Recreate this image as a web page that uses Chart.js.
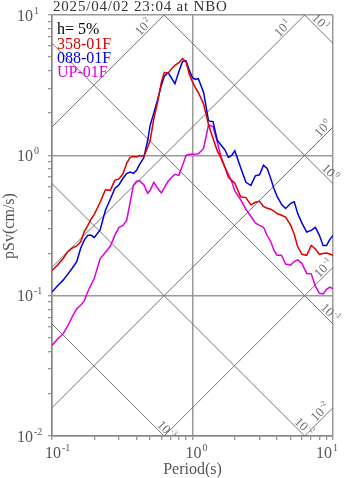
<!DOCTYPE html>
<html>
<head>
<meta charset="utf-8">
<script src="https://cdn.jsdelivr.net/npm/chart.js@4.4.1/dist/chart.umd.min.js"></script>
<style>
  html, body { margin: 0; padding: 0; background: #fff; }
  #wrap { position: relative; width: 347px; height: 478px; }
</style>
</head>
<body>
<div id="wrap"><canvas id="spec"></canvas></div>
<script>
// Pseudo velocity response spectra, h = 5%
const PERIODS = [0.10, 0.11, 0.12, 0.13, 0.14, 0.15, 0.16, 0.17, 0.18, 0.19, 0.20,
  0.22, 0.24, 0.26, 0.28, 0.30, 0.32, 0.34, 0.36, 0.38, 0.40, 0.42,
  0.45, 0.48, 0.50, 0.53, 0.56, 0.60, 0.63, 0.67, 0.70, 0.75, 0.80, 0.85, 0.90, 0.95,
  1.0, 1.05, 1.1, 1.2, 1.3, 1.4, 1.5, 1.6, 1.7, 1.8, 1.9, 2.0,
  2.2, 2.4, 2.6, 2.8, 3.0, 3.2, 3.4, 3.6, 3.8, 4.0,
  4.3, 4.6, 5.0, 5.3, 5.6, 6.0, 6.5, 7.0, 7.5, 8.0, 8.5, 9.0, 9.5, 10];

const SV_358 = [0.151, 0.166, 0.184, 0.207, 0.219, 0.226, 0.242, 0.287, 0.317, 0.352, 0.380,
  0.463, 0.568, 0.563, 0.663, 0.680, 0.738, 0.877, 0.968, 0.980, 0.975, 0.997,
  0.984, 1.14, 1.28, 1.81, 2.31, 3.31, 3.90, 3.84, 4.08, 4.38, 4.57, 4.90, 4.63, 3.76,
  3.34, 3.03, 2.81, 2.31, 1.66, 1.32, 1.08, 0.952, 0.828, 0.697, 0.663, 0.632,
  0.506, 0.500, 0.444, 0.463, 0.470, 0.433, 0.420, 0.413, 0.400, 0.385,
  0.374, 0.363, 0.317, 0.274, 0.224, 0.197, 0.194, 0.228, 0.215, 0.197, 0.200, 0.201, 0.198, 0.194];

const SV_088 = [0.106, 0.118, 0.129, 0.143, 0.158, 0.175, 0.218, 0.250, 0.269, 0.269, 0.260,
  0.294, 0.406, 0.486, 0.580, 0.617, 0.686, 0.741, 0.760, 0.744, 0.782, 0.863,
  0.960, 1.28, 1.64, 2.00, 2.42, 3.15, 3.66, 3.88, 3.63, 3.24, 3.96, 4.67, 4.71, 4.03,
  3.57, 3.48, 3.52, 2.81, 1.76, 1.74, 1.28, 1.18, 1.095, 0.968, 1.00, 1.08,
  0.820, 0.642, 0.611, 0.714, 0.727, 0.849, 0.808, 0.686, 0.577, 0.510,
  0.447, 0.418, 0.455, 0.466, 0.386, 0.330, 0.284, 0.292, 0.307, 0.269, 0.228, 0.228, 0.252, 0.269];

const SV_UP = [0.0442, 0.0493, 0.0535, 0.0614, 0.0713, 0.0808, 0.0853, 0.0926, 0.107, 0.120, 0.133,
  0.183, 0.204, 0.225, 0.269, 0.307, 0.317, 0.344, 0.463, 0.611, 0.653, 0.658,
  0.617, 0.536, 0.563, 0.642, 0.590, 0.540, 0.587, 0.653, 0.686, 0.732, 0.720, 0.849, 1.00, 1.016,
  1.016, 1.02, 1.026, 1.12, 1.65, 1.60, 1.25, 0.968, 0.820, 0.732, 0.653, 0.558,
  0.483, 0.413, 0.368, 0.330, 0.317, 0.307, 0.269, 0.244, 0.210, 0.194,
  0.194, 0.168, 0.165, 0.175, 0.180, 0.170, 0.144, 0.143, 0.117, 0.104, 0.103, 0.111, 0.115, 0.112];

const SERIES_NAMES = ['358-01F', '088-01F', 'UP-01F'];
const SERIES_COLORS = ['#dd0000', '#0000dd', '#dd00dd'];

const X_TICKS = [0.1, 0.2, 0.3, 0.4, 0.5, 0.6, 0.7, 0.8, 0.9,
  1, 2, 3, 4, 5, 6, 7, 8, 9, 10];
const Y_TICKS = [0.01, 0.02, 0.03, 0.04, 0.05, 0.06, 0.07, 0.08, 0.09,
  0.1, 0.2, 0.3, 0.4, 0.5, 0.6, 0.7, 0.8, 0.9,
  1, 2, 3, 4, 5, 6, 7, 8, 9, 10];
const X_LABELS = [0.1, 1, 10];
const Y_LABELS = [10, 1, 0.1, 0.01];

// tripartite guides: displacement (cm) and acceleration (cm/s^2)
const DISP_LINES = [10, 1, 0.1, 0.01, 0.001];
const ACC_LINES = [100, 10, 1, 0.1, 0.01];
// period at which each guide label sits
const DISP_LABEL_T = [7.6, 8.9, 8.9, 5.8, 0.61];
const ACC_LABEL_T = [0.48, 4.7, 9.1, 9.2, 8.7];

const TITLE = '2025/04/02 23:04 at NBO';
const DAMPING = 'h= 5%';

const TWO_PI = 2 * Math.PI;
const SERIF = '"Liberation Serif", "DejaVu Serif", serif';

function isDecade(v) {
  const l = Math.log10(v);
  return Math.abs(l - Math.round(l)) < 1e-6;
}

function guideData(level, kind) {
  return [0.1, 10].map(t => ({
    x: t,
    y: kind === 'disp' ? TWO_PI * level / t : level * t / TWO_PI
  }));
}

// "10" with a raised exponent; returns total width
function powWidth(ctx, exp, size) {
  ctx.font = size + 'px ' + SERIF;
  const wb = ctx.measureText('10').width;
  ctx.font = Math.round(size * 0.65) + 'px ' + SERIF;
  const we = ctx.measureText(String(exp)).width;
  return wb + we + 1;
}
function drawPow(ctx, exp, x, y, size) {
  ctx.font = size + 'px ' + SERIF;
  ctx.fillText('10', x, y);
  const wb = ctx.measureText('10').width;
  ctx.font = Math.round(size * 0.65) + 'px ' + SERIF;
  ctx.fillText(String(exp), x + wb + 1, y - size * 0.42);
}

const spectra = SERIES_NAMES.map((name, i) => ({
  label: name,
  data: PERIODS.map((t, k) => ({ x: t, y: [SV_358, SV_088, SV_UP][i][k] })),
  borderColor: SERIES_COLORS[i],
  borderWidth: 1.5,
  pointRadius: 0,
  tension: 0,
  order: 0
}));

const guides = [];
DISP_LINES.forEach(d => guides.push({
  data: guideData(d, 'disp'), borderColor: '#737373', borderWidth: 1,
  pointRadius: 0, order: 5
}));
ACC_LINES.forEach(a => guides.push({
  data: guideData(a, 'acc'), borderColor: '#737373', borderWidth: 1,
  pointRadius: 0, order: 5
}));

const textPlugin = {
  id: 'textPlugin',
  afterDraw(chart) {
    const { ctx, chartArea: area, scales: { x, y } } = chart;
    ctx.save();
    ctx.textBaseline = 'alphabetic';
    ctx.textAlign = 'left';

    // guide line labels, rotated along their line
    ctx.fillStyle = '#6e6e6e';
    const off = 6.5 / Math.SQRT2;
    const guideLabel = (t, sv, exp, up) => {
      const px = x.getPixelForValue(t), py = y.getPixelForValue(sv);
      ctx.save();
      ctx.translate(px + (up ? -off : off), py - off);
      ctx.rotate(up ? -Math.PI / 4 : Math.PI / 4);
      const w = powWidth(ctx, exp, 13);
      drawPow(ctx, exp, -w / 2, 4.5, 13);
      ctx.restore();
    };
    DISP_LINES.forEach((d, i) => {
      const t = DISP_LABEL_T[i];
      guideLabel(t, TWO_PI * d / t, Math.round(Math.log10(d)), false);
    });
    ACC_LINES.forEach((a, i) => {
      const t = ACC_LABEL_T[i];
      guideLabel(t, a * t / TWO_PI, Math.round(Math.log10(a)), true);
    });

    // axis tick labels
    ctx.fillStyle = '#555';
    Y_LABELS.forEach(v => {
      drawPow(ctx, Math.round(Math.log10(v)), 17, y.getPixelForValue(v) + 5.5, 16);
    });
    X_LABELS.forEach(v => {
      const exp = Math.round(Math.log10(v));
      ctx.font = '16px ' + SERIF;
      const wb = ctx.measureText('10').width;
      let left = x.getPixelForValue(v) + 1 - wb / 2;
      const w = powWidth(ctx, exp, 16);
      if (left + w > 338) left = 338 - w;
      drawPow(ctx, exp, left, 458, 16);
    });

    // axis titles
    ctx.font = '16px ' + SERIF;
    ctx.textAlign = 'center';
    ctx.fillText('Period(s)', (area.left + area.right) / 2, 474);
    ctx.save();
    ctx.translate(14, 226);
    ctx.rotate(-Math.PI / 2);
    ctx.fillText('pSv(cm/s)', 0, 0);
    ctx.restore();

    // heading
    ctx.textAlign = 'left';
    ctx.fillStyle = '#333';
    ctx.font = '15px ' + SERIF;
    ctx.letterSpacing = '0.8px';
    ctx.fillText(TITLE, area.left + 1, 11);
    ctx.letterSpacing = '0px';

    // text legend
    ctx.font = '16px ' + SERIF;
    ctx.fillStyle = '#000';
    ctx.fillText(DAMPING, area.left + 5, 34);
    SERIES_NAMES.forEach((name, i) => {
      ctx.fillStyle = SERIES_COLORS[i];
      ctx.fillText(name, area.left + 5, 48.5 + i * 14.3);
    });
    ctx.restore();
  }
};

const gridColor = c => (c.tick && isDecade(c.tick.value)) ? '#999' : 'rgba(0,0,0,0)';

new Chart(document.getElementById('spec'), {
  type: 'line',
  data: { datasets: spectra.concat(guides) },
  options: {
    responsive: true,
    maintainAspectRatio: false,
    animation: false,
    events: [],
    layout: { padding: { top: 15, right: 14, bottom: 0, left: 0 } },
    plugins: { legend: { display: false }, tooltip: { enabled: false } },
    scales: {
      x: {
        type: 'logarithmic',
        min: 0.1,
        max: 10,
        afterBuildTicks: s => { s.ticks = X_TICKS.map(v => ({ value: v })); },
        afterFit: s => { s.height = 42; },
        ticks: { display: false, autoSkip: false },
        grid: { color: gridColor, lineWidth: 1.5, tickColor: '#777', tickLength: 4, tickWidth: 1 },
        border: { color: '#888', width: 1.5 }
      },
      y: {
        type: 'logarithmic',
        min: 0.01,
        max: 10,
        afterBuildTicks: s => { s.ticks = Y_TICKS.map(v => ({ value: v })); },
        afterFit: s => { s.width = 52; },
        ticks: { display: false, autoSkip: false },
        grid: { color: gridColor, lineWidth: 1.5, tickColor: '#777', tickLength: 4, tickWidth: 1 },
        border: { color: '#888', width: 1.5 }
      }
    }
  },
  plugins: [textPlugin]
});
</script>
</body>
</html>
